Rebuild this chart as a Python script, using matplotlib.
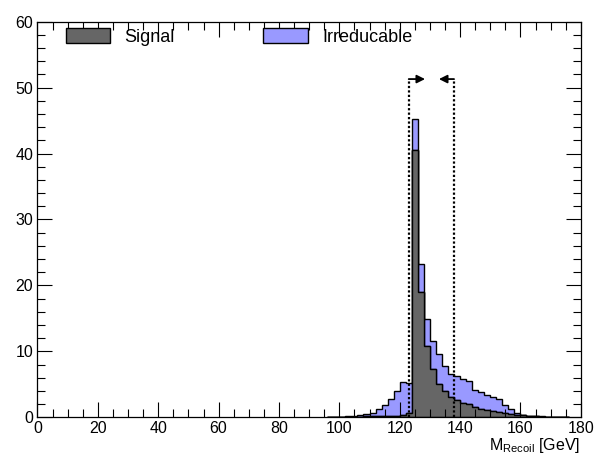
import numpy as np
import matplotlib
matplotlib.use("Agg")
import matplotlib.pyplot as plt
from matplotlib.patches import Patch
from matplotlib.ticker import MultipleLocator

plt.rcParams['font.family'] = ['Liberation Sans', 'DejaVu Sans']

# recoil mass histogram, 2 GeV bins, only the populated range listed
bin_lo = 96.0
bin_w = 2.0
total = [0.03, 0.05, 0.10, 0.15, 0.25, 0.35, 0.45, 0.70, 1.20, 1.80,
         2.70, 4.00, 5.30, 5.15, 45.2, 23.25, 14.9, 11.55, 9.60, 7.80,
         6.50, 6.25, 5.75, 5.50, 4.15, 3.90, 3.40, 3.10, 2.70, 1.85,
         1.20, 0.60, 0.35, 0.25, 0.18, 0.12, 0.08, 0.05, 0.03, 0.02]
signal = [0.02, 0.03, 0.05, 0.06, 0.08, 0.10, 0.12, 0.15, 0.18, 0.20,
          0.22, 0.25, 0.35, 0.60, 40.6, 19.05, 10.8, 7.30, 5.10, 4.00,
          3.10, 2.60, 2.10, 2.00, 1.50, 1.30, 1.10, 0.95, 0.85, 0.70,
          0.55, 0.40, 0.30, 0.20, 0.15, 0.10, 0.07, 0.04, 0.02, 0.01]
irreducible = [t - s for t, s in zip(total, signal)]

cut_lo, cut_hi = 123.0, 138.0
cut_top = 51.3

sig_color = '#666666'
irr_color = '#9999ff'

edges = bin_lo + bin_w * np.arange(len(signal) + 1)
centers = 0.5 * (edges[:-1] + edges[1:])

fig = plt.figure(figsize=(5.99, 4.58), dpi=100)
ax = fig.add_axes([0.0626, 0.0889, 0.907, 0.8637])

ax.hist([centers, centers], bins=edges, weights=[signal, irreducible],
        stacked=True, histtype='stepfilled', color=[sig_color, irr_color],
        edgecolor='black', linewidth=1.0)

# selection window
for xc in (cut_lo, cut_hi):
    ax.plot([xc, xc], [0, cut_top], color='black', lw=1.6,
            linestyle=(0, (1, 1)), zorder=5)
ax.annotate('', xy=(cut_lo + 5.4, cut_top), xytext=(cut_lo, cut_top),
            arrowprops=dict(arrowstyle='-|>', color='black', lw=1.3,
                            mutation_scale=12, shrinkA=0, shrinkB=0))
ax.annotate('', xy=(cut_hi - 5.0, cut_top), xytext=(cut_hi, cut_top),
            arrowprops=dict(arrowstyle='-|>', color='black', lw=1.3,
                            mutation_scale=12, shrinkA=0, shrinkB=0))

ax.set_xlim(0, 180)
ax.set_ylim(0, 60)
ax.xaxis.set_major_locator(MultipleLocator(20))
ax.xaxis.set_minor_locator(MultipleLocator(5))
ax.yaxis.set_major_locator(MultipleLocator(10))
ax.yaxis.set_minor_locator(MultipleLocator(2))
ax.tick_params(which='both', direction='in', top=True, right=True,
               labelsize=11.5, color='black')
ax.tick_params(which='major', length=11, width=0.8, pad=3)
ax.tick_params(which='minor', length=6, width=0.8)
for sp in ax.spines.values():
    sp.set_linewidth(0.9)

ax.set_xlabel(r'M$_{\mathregular{Recoil}}$ [GeV]', fontsize=11.5, loc='right',
              labelpad=0)

handles = [Patch(facecolor=sig_color, edgecolor='black', label='Signal'),
           Patch(facecolor=irr_color, edgecolor='black', label='Irreducable')]
ax.legend(handles=handles, ncol=2, loc='upper left', frameon=False,
          fontsize=13, handlelength=2.45, handleheight=0.9,
          columnspacing=4.9, handletextpad=0.8,
          borderpad=0, borderaxespad=0,
          bbox_to_anchor=(0.052, 0.983))

fig.savefig('out.png', dpi=100)
